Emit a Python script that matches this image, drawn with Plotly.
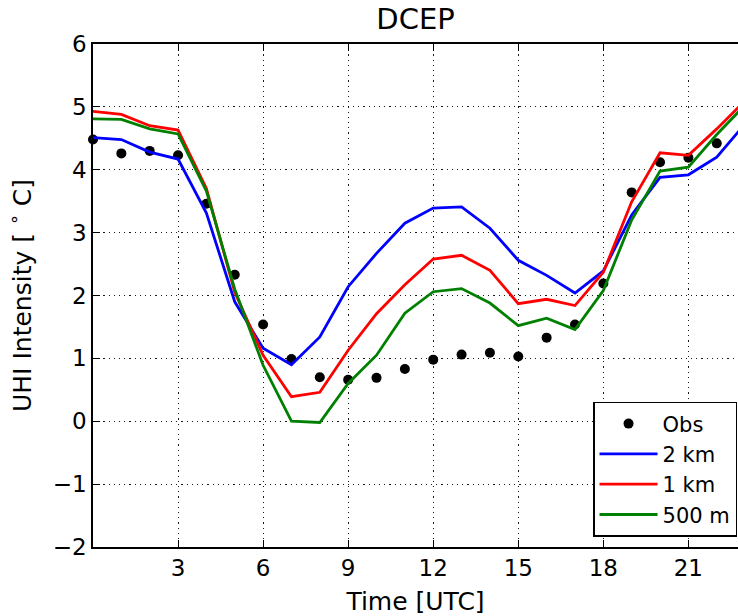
import plotly.graph_objects as go

hours = list(range(24))
obs_hours = list(range(23))
obs = [4.48, 4.26, 4.30, 4.23, 3.46, 2.33, 1.54, 0.99, 0.70, 0.66, 0.69, 0.83,
       0.98, 1.06, 1.09, 1.03, 1.33, 1.54, 2.19, 3.64, 4.12, 4.19, 4.42]
km2 = [4.51, 4.48, 4.28, 4.17, 3.31, 1.90, 1.16, 0.90, 1.34, 2.14, 2.67, 3.15,
       3.39, 3.41, 3.07, 2.56, 2.32, 2.04, 2.39, 3.28, 3.88, 3.92, 4.20, 4.73]
km1 = [4.93, 4.88, 4.70, 4.63, 3.70, 2.05, 1.05, 0.39, 0.46, 1.13, 1.71, 2.17,
       2.58, 2.64, 2.40, 1.87, 1.94, 1.84, 2.37, 3.49, 4.27, 4.23, 4.65, 5.10]
m500 = [4.81, 4.80, 4.65, 4.57, 3.66, 2.10, 0.89, 0.00, -0.02, 0.60, 1.05, 1.72,
        2.06, 2.11, 1.88, 1.52, 1.64, 1.46, 2.08, 3.20, 3.98, 4.04, 4.56, 5.03]

xticks = [3, 6, 9, 12, 15, 18, 21]
yticks = [-2, -1, 0, 1, 2, 3, 4, 5, 6]

FONT = "DejaVu Sans"

fig = go.Figure()
fig.add_trace(go.Scatter(x=obs_hours, y=obs, mode="markers", name="Obs",
                         marker=dict(color="black", size=10), cliponaxis=False))
fig.add_trace(go.Scatter(x=hours, y=km2, mode="lines", name="2 km",
                         line=dict(color="#0000FF", width=2.8)))
fig.add_trace(go.Scatter(x=hours, y=km1, mode="lines", name="1 km",
                         line=dict(color="#FF0000", width=2.8)))
fig.add_trace(go.Scatter(x=hours, y=m500, mode="lines", name="500 m",
                         line=dict(color="#008000", width=2.8)))

fig.update_layout(
    width=738, height=616,
    margin=dict(l=93, r=0, t=44, b=69),
    paper_bgcolor="white", plot_bgcolor="white",
    font=dict(family=FONT, color="black", size=21),
    title=dict(text="DCEP", x=0.5, xref="paper", xanchor="center",
               y=1, yref="container", yanchor="top", pad=dict(t=9),
               font=dict(size=29, family=FONT)),
    showlegend=True,
    legend=dict(x=0.9985, xanchor="right", y=0.02, yanchor="bottom",
                bgcolor="white", bordercolor="black", borderwidth=1.5,
                font=dict(size=21, family=FONT), tracegroupgap=0,
                itemwidth=58),
)
fig.update_xaxes(
    range=[0, 22.75], tickvals=xticks, ticks="inside", ticklen=7,
    tickcolor="black", tickwidth=1, showline=True, linecolor="black",
    linewidth=1.5, mirror="ticks", showgrid=True, gridcolor="rgba(0,0,0,0.9)",
    gridwidth=1, griddash="1.2px,4px", zeroline=False,
    tickfont=dict(size=23, family=FONT),
    title=dict(text="Time [UTC]", font=dict(size=25, family=FONT), standoff=14),
)
fig.update_yaxes(
    range=[-2, 6], tickvals=yticks, ticks="inside", ticklen=7,
    tickcolor="black", tickwidth=1, showline=True, linecolor="black",
    linewidth=1.5, showgrid=True, gridcolor="rgba(0,0,0,0.9)",
    gridwidth=1, griddash="1.2px,4px", zeroline=False,
    tickfont=dict(size=23, family=FONT),
    title=dict(text="UHI Intensity [ <sup>∘</sup> C]", font=dict(size=25, family=FONT), standoff=14),
)

fig.write_html("out.html")
